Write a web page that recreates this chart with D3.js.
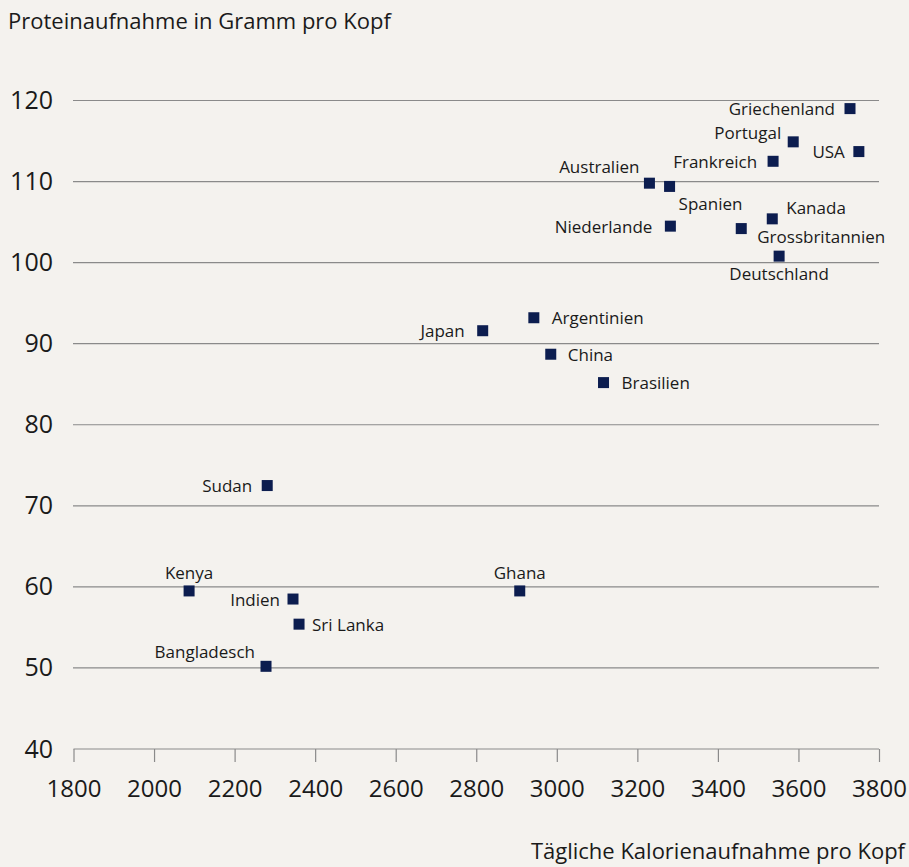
<!DOCTYPE html>
<html><head><meta charset="utf-8">
<script src="https://cdn.jsdelivr.net/npm/d3@7"></script>
<style>
html,body{margin:0;padding:0;background:#f4f2ee;}
svg{display:block;font-family:"Open Sans","Liberation Sans",sans-serif;}
</style></head>
<body>
<svg id="chart" width="909" height="867"></svg>
<script>
const countries = ["Griechenland","Portugal","USA","Frankreich","Australien","Spanien","Niederlande","Kanada","Grossbritannien","Deutschland","Japan","Argentinien","China","Brasilien","Sudan","Kenya","Ghana","Indien","Sri Lanka","Bangladesch"];
const calories = [3728,3587,3750,3537,3230,3280,3282,3535,3458,3552,2816,2943,2985,3116,2281,2087,2908,2345,2360,2278];
const protein  = [119.0,114.9,113.7,112.5,109.8,109.4,104.5,105.4,104.2,100.8,91.6,93.2,88.7,85.2,72.5,59.5,59.5,58.5,55.4,50.2];
const xTicks = [1800,2000,2200,2400,2600,2800,3000,3200,3400,3600,3800];
const yTicks = [40,50,60,70,80,90,100,110,120];
const yTitle = "Proteinaufnahme in Gramm pro Kopf";
const xTitle = "Tägliche Kalorienaufnahme pro Kopf";

// label placement (style only): anchor, dx, dy
const placement = {
  "Griechenland":["end",-15,0], "Portugal":["end",-12,-9], "USA":["end",-14,0],
  "Frankreich":["end",-16,0], "Australien":["end",-10,-17], "Spanien":["start",9,17],
  "Niederlande":["end",-18,0], "Kanada":["start",14,-11], "Grossbritannien":["start",16,8],
  "Deutschland":["middle",0,17], "Japan":["end",-18,0], "Argentinien":["start",18,0],
  "China":["start",17,0], "Brasilien":["start",18,0], "Sudan":["end",-15,0],
  "Kenya":["middle",0,-18], "Ghana":["middle",0,-18], "Indien":["end",-13,0],
  "Sri Lanka":["start",13,0], "Bangladesch":["end",-11,-15]
};

const svg = d3.select("#chart");
const x = d3.scaleLinear().domain([1800,3800]).range([73.5,879]);
const y = d3.scaleLinear().domain([40,120]).range([749,100.5]);

// gridlines
svg.append("g").selectAll("line").data(yTicks.filter(v=>v>40)).join("line")
  .attr("x1",73).attr("x2",879).attr("y1",d=>y(d)).attr("y2",d=>y(d))
  .attr("stroke","#8a8a8a").attr("stroke-width",1.2);

// x axis
const xa = svg.append("g").attr("transform",`translate(0,${y(40)})`)
  .call(d3.axisBottom(x).tickValues(xTicks).tickSize(13).tickPadding(22).tickFormat(d3.format("d")));
xa.select(".domain").attr("stroke","#8a8a8a").attr("stroke-width",1.2).attr("d",`M${x(1800)},0H${x(3800)}`);
xa.selectAll(".tick line").attr("stroke","#8a8a8a").attr("stroke-width",1.2);
xa.selectAll(".tick text").attr("font-size",24).attr("fill","#1a1a1a").attr("font-family","'Open Sans',sans-serif")
  .attr("dy","0.55em");

// y axis labels
const ya = svg.append("g").attr("transform","translate(53,0)")
  .call(d3.axisLeft(y).tickValues(yTicks).tickSize(0).tickPadding(0));
ya.select(".domain").remove();
ya.selectAll(".tick text").attr("font-size",25).attr("fill","#1a1a1a").attr("font-family","'Open Sans',sans-serif");

// titles
svg.append("text").attr("x",8).attr("y",29).attr("font-size",22).attr("fill","#1a1a1a").text(yTitle);
svg.append("text").attr("x",905).attr("y",859).attr("text-anchor","end").attr("font-size",22).attr("fill","#1a1a1a").text(xTitle);

// points
const data = countries.map((c,i)=>({c, x:calories[i], y:protein[i]}));
const s = 11;
svg.append("g").selectAll("rect").data(data).join("rect")
  .attr("x",d=>x(d.x)-s/2).attr("y",d=>y(d.y)-s/2).attr("width",s).attr("height",s)
  .attr("fill","#0c1d4f");

svg.append("g").selectAll("text").data(data).join("text")
  .attr("x",d=>x(d.x)+placement[d.c][1]).attr("y",d=>y(d.y)+placement[d.c][2])
  .attr("text-anchor",d=>placement[d.c][0]).attr("dominant-baseline","central")
  .attr("font-size",17).attr("fill","#1a1a1a").text(d=>d.c);
</script>
</body></html>
